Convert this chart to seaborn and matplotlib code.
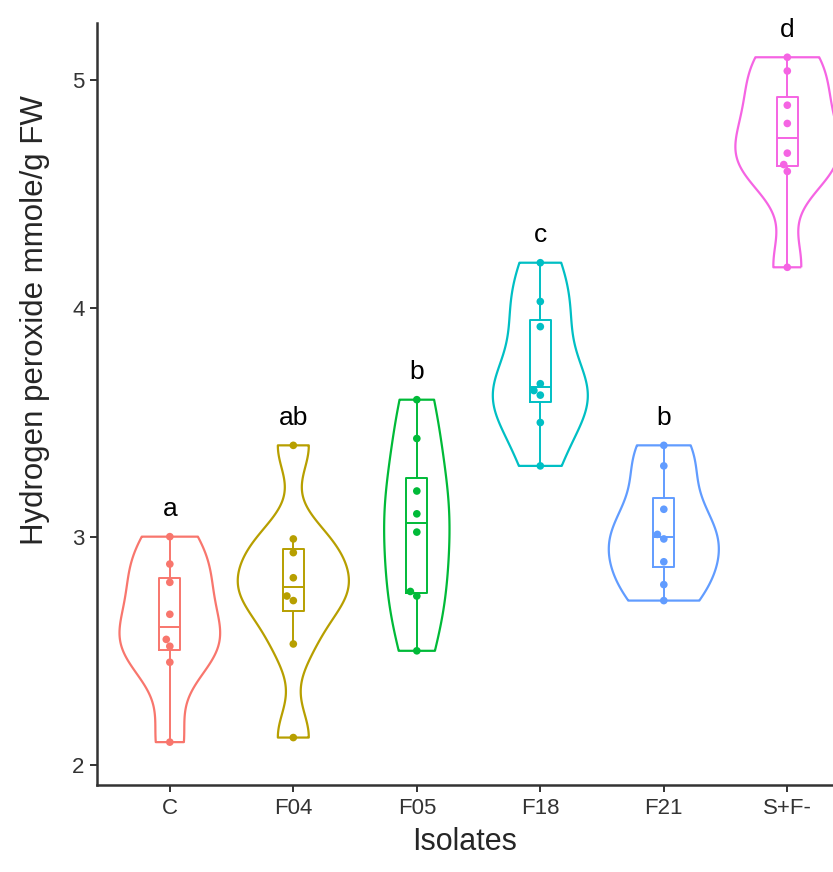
import numpy as np
import pandas as pd
import matplotlib
matplotlib.use("Agg")
import matplotlib.pyplot as plt
import seaborn as sns

# ---------------------------------------------------------------
# Data (H2O2, mmole/g FW, 8 plants each)
# ---------------------------------------------------------------
isolates = ["C", "F04", "F05", "F18", "F21", "S+F-"]
vals_c = [2.10, 2.45, 2.52, 2.55, 2.66, 2.80, 2.88, 3.00]
vals_f04 = [2.12, 2.53, 2.72, 2.74, 2.82, 2.93, 2.99, 3.40]
vals_f05 = [2.50, 2.74, 2.76, 3.02, 3.10, 3.20, 3.43, 3.60]
vals_f18 = [3.31, 3.50, 3.62, 3.64, 3.67, 3.92, 4.03, 4.20]
vals_f21 = [2.72, 2.79, 2.89, 2.99, 3.01, 3.12, 3.31, 3.40]
vals_sf = [4.18, 4.60, 4.63, 4.68, 4.81, 4.89, 5.04, 5.10]
letters = ["a", "ab", "b", "c", "b", "d"]

# ggplot default hue colours
colores = ["#F8766D", "#B79F00", "#00BA38", "#00BFC4", "#619CFF", "#F564E3"]

grupos = [vals_c, vals_f04, vals_f05, vals_f18, vals_f21, vals_sf]
df = pd.DataFrame({
    "Isolates": np.repeat(isolates, [len(g) for g in grupos]),
    "H2O2": np.concatenate(grupos),
})
paleta = dict(zip(isolates, colores))


def nrd0(kde):
    # R's bw.nrd0 expressed as a factor of the sample sd (gaussian_kde style)
    x = kde.dataset.ravel()
    sd = x.std(ddof=1)
    q75, q25 = np.percentile(x, [75, 25])
    lo = min(sd, (q75 - q25) / 1.34)
    return 0.9 * lo * len(x) ** -0.2 / sd


sns.set_style("ticks")
plt.rcParams["font.family"] = ["Liberation Sans", "DejaVu Sans"]

fig = plt.figure(figsize=(8.33, 8.72), dpi=100)
ax = fig.add_axes([0.1164, 0.0992, 0.8836, 0.8744])

# violin outline (trimmed, equal area across all groups)
sns.violinplot(data=df, x="Isolates", y="H2O2", hue="Isolates", palette=paleta,
               order=isolates, fill=False, inner=None, cut=0,
               density_norm="area", common_norm=True,
               width=0.9, linewidth=1.6, bw_method=nrd0, gridsize=512,
               legend=False, ax=ax)

# narrow box inside
sns.boxplot(data=df, x="Isolates", y="H2O2", hue="Isolates", palette=paleta,
            order=isolates, fill=False, width=0.17, linewidth=1.4,
            showcaps=False, showfliers=False, legend=False, ax=ax)

# points
sns.swarmplot(data=df, x="Isolates", y="H2O2", hue="Isolates", palette=paleta,
              order=isolates, size=5.5, linewidth=0, legend=False, ax=ax,
              zorder=5)

# significance letters above each violin
for i, (g, letra) in enumerate(zip(grupos, letters)):
    ax.text(i, max(g) + 0.12, letra, ha="center", va="center",
            fontsize=19, color="black")

ax.set_xlim(-0.59, 5.37)
ax.set_ylim(1.91, 5.25)
ax.set_yticks([2, 3, 4, 5])
ax.set_xlabel("Isolates", fontsize=22, labelpad=6)
ax.set_ylabel("Hydrogen peroxide mmole/g FW", fontsize=22.5)
ax.yaxis.set_label_coords(-0.064, 0.61)
ax.tick_params(axis="both", labelsize=16, colors="#333333", width=1.4,
               length=5, pad=4)

sns.despine(ax=ax)
for lado in ["left", "bottom"]:
    ax.spines[lado].set_linewidth(1.8)
    ax.spines[lado].set_color("#333333")

fig.savefig("out.png", dpi=100)
